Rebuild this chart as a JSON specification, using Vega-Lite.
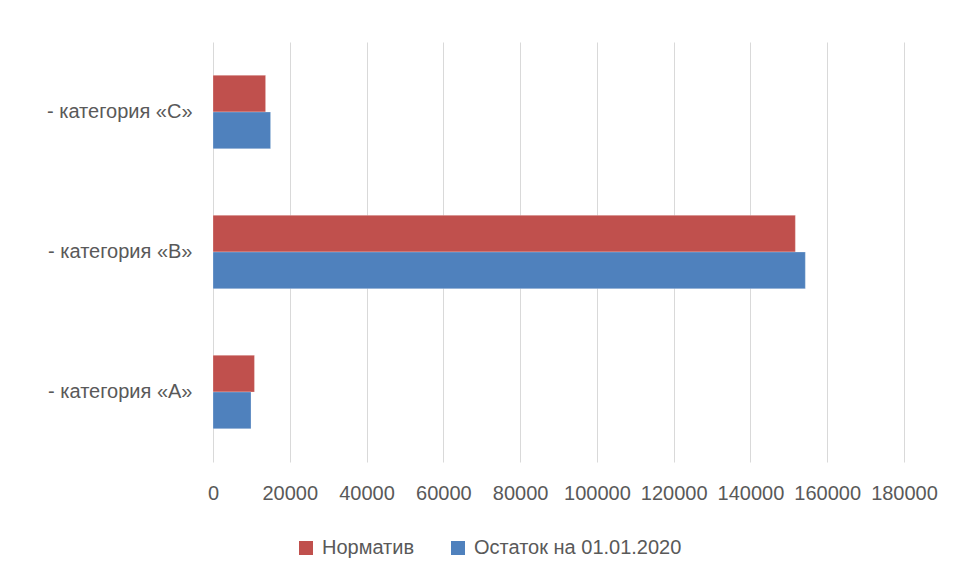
{
  "$schema": "https://vega.github.io/schema/vega-lite/v6.json",
  "width": 691,
  "height": 420,
  "autosize": {"type": "none"},
  "padding": {"left": 213, "top": 42, "right": 54, "bottom": 114},
  "background": "white",
  "config": {
    "view": {"stroke": null},
    "font": "Liberation Sans"
  },
  "data": {
    "values": [
      {"cat": "- категория «C»", "series": "Норматив", "value": 13700},
      {"cat": "- категория «C»", "series": "Остаток на 01.01.2020", "value": 15000},
      {"cat": "- категория «B»", "series": "Норматив", "value": 151700},
      {"cat": "- категория «B»", "series": "Остаток на 01.01.2020", "value": 154300},
      {"cat": "- категория «A»", "series": "Норматив", "value": 10800},
      {"cat": "- категория «A»", "series": "Остаток на 01.01.2020", "value": 9900}
    ]
  },
  "mark": {"type": "bar", "stroke": "white", "strokeOpacity": 0.5, "strokeWidth": 0.5},
  "encoding": {
    "y": {
      "field": "cat",
      "type": "nominal",
      "sort": ["- категория «C»", "- категория «B»", "- категория «A»"],
      "scale": {"paddingInner": 0.476, "paddingOuter": 0.238},
      "axis": {
        "title": null,
        "domain": false,
        "ticks": false,
        "labelPadding": 21,
        "labelFontSize": 20,
        "labelColor": "#595959",
        "labelFont": "Liberation Sans",
        "labelLimit": 0
      }
    },
    "yOffset": {
      "field": "series",
      "type": "nominal",
      "sort": ["Норматив", "Остаток на 01.01.2020"]
    },
    "x": {
      "field": "value",
      "type": "quantitative",
      "scale": {"domain": [0, 180000], "nice": false},
      "axis": {
        "title": null,
        "values": [0, 20000, 40000, 60000, 80000, 100000, 120000, 140000, 160000, 180000],
        "format": "d",
        "domain": false,
        "ticks": false,
        "grid": true,
        "gridColor": "#d9d9d9",
        "gridWidth": 1,
        "labelPadding": 21,
        "labelFontSize": 20,
        "labelColor": "#595959",
        "labelFont": "Liberation Sans",
        "labelOverlap": false,
        "labelFlush": false,
        "labelBound": false
      }
    },
    "color": {
      "field": "series",
      "type": "nominal",
      "sort": ["Норматив", "Остаток на 01.01.2020"],
      "scale": {"range": ["#C0504D", "#4F81BD"]},
      "legend": {
        "title": null,
        "orient": "none",
        "direction": "horizontal",
        "legendX": 83,
        "legendY": 496,
        "symbolType": "square",
        "symbolSize": 196,
        "symbolStrokeWidth": 0,
        "labelFontSize": 20,
        "labelColor": "#595959",
        "labelFont": "Liberation Sans",
        "labelLimit": 0,
        "columnPadding": 33,
        "labelOffset": 6
      }
    }
  }
}
